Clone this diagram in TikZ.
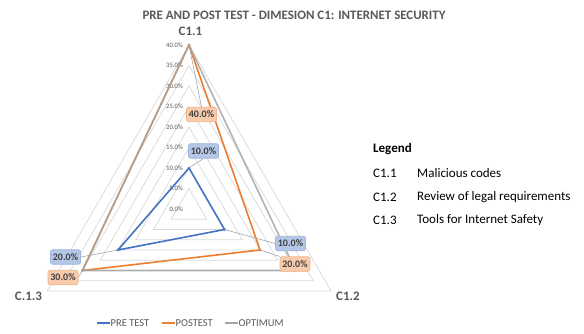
\documentclass[tikz,border=0pt]{standalone}
\usepackage{fontspec}
\setmainfont{Carlito}
\usetikzlibrary{calc}
\definecolor{preblue}{HTML}{4472C4}
\definecolor{postorange}{HTML}{ED7D31}
\definecolor{optgray}{HTML}{A5A5A5}
\definecolor{gridgray}{HTML}{D9D9D9}
\definecolor{txtgray}{HTML}{595959}
\definecolor{lbltext}{HTML}{404040}
\definecolor{lblblue}{HTML}{B4C7E7}
\definecolor{lblblueedge}{HTML}{9DB4DC}
\definecolor{lblorange}{HTML}{F8CBAD}
\definecolor{lblorangeedge}{HTML}{F1B48C}
\definecolor{leadergray}{HTML}{A6A6A6}
\begin{document}
\begin{tikzpicture}[x=1pt,y=-1pt,
  ring/.style={draw=gridgray,line width=0.7pt},
  series/.style={line width=1.6pt,line join=round},
  dot/.style={circle,inner sep=0pt,minimum size=3pt},
  ticklbl/.style={font=\fontsize{6.7}{7}\selectfont,text=txtgray,anchor=east,inner sep=0pt},
  axislbl/.style={font=\fontsize{13}{15}\selectfont\bfseries,text=txtgray,inner sep=0pt},
  datalbl/.style={rounded corners=2pt,font=\fontsize{10}{11}\selectfont\bfseries,text=lbltext,
    inner sep=0pt,minimum width=30pt,minimum height=14.5pt,line width=0.6pt},
  prelbl/.style={datalbl,fill=lblblue,draw=lblblueedge},
  postlbl/.style={datalbl,fill=lblorange,draw=lblorangeedge},
  leader/.style={draw=leadergray,line width=0.6pt},
  keytext/.style={font=\fontsize{10.5}{12}\selectfont,text=txtgray,anchor=west,inner sep=0pt},
  legtext/.style={font=\fontsize{13}{15}\selectfont,anchor=west,inner sep=0pt}
]
\useasboundingbox (0,0) rectangle (584,334);
\fill[white] (0,0) rectangle (584,334);

% title
\node[font=\fontsize{12.9}{15}\selectfont\bfseries,text=txtgray,inner sep=0pt] (title) at (294,15)
  {PRE AND POST TEST - DIMESION C1: INTERNET SECURITY};

% radar grid: centre at (189,209), 4.1pt per percentage point
\begin{scope}[shift={(189,209)}]
  \foreach \v in {5,10,...,40}{
    \draw[ring] (0,{-4.1*\v}) -- ({4.1*\v*cos(30)},{4.1*\v*sin(30)})
      -- ({4.1*\v*cos(150)},{4.1*\v*sin(150)}) -- cycle;
  }
  \foreach \v in {0,5,...,40}{
    \node[ticklbl] (tick\v) at (-6,{-4.1*\v}) {\v.0\%};
  }
  % data points (C1.1 up, C1.2 lower right, C1.3 lower left)
  \coordinate (pre1)  at (0,{-4.1*10});
  \coordinate (pre2)  at ({4.1*10*cos(30)},{4.1*10*sin(30)});
  \coordinate (pre3)  at ({4.1*20*cos(150)},{4.1*20*sin(150)});
  \coordinate (post1) at (0,{-4.1*40});
  \coordinate (post2) at ({4.1*20*cos(30)},{4.1*20*sin(30)});
  \coordinate (post3) at ({4.1*30*cos(150)},{4.1*30*sin(150)});
  \coordinate (opt1)  at (0,{-4.1*40});
  \coordinate (opt2)  at ({4.1*30*cos(30)},{4.1*30*sin(30)});
  \coordinate (opt3)  at ({4.1*30*cos(150)},{4.1*30*sin(150)});
\end{scope}

% category labels
\node[axislbl] (c11) at (190.5,31) {C1.1};
\node[axislbl] (c12) at (348,296) {C1.2};
\node[axislbl] (c13) at (28.5,296) {C.1.3};

% series
\draw[series,preblue] (pre1) -- (pre2) -- (pre3) -- cycle;
\draw[series,postorange] (post1) -- (post2) -- (post3) -- cycle;
\draw[series,optgray,opacity=0.85] (opt1) -- (opt2) -- (opt3) -- cycle;
\foreach \p in {pre1,pre2,pre3}{\node[dot,fill=preblue] at (\p) {};}
\foreach \p in {post1,post2,post3}{\node[dot,fill=postorange] at (\p) {};}
\foreach \p in {opt1,opt2,opt3}{\node[dot,fill=optgray] at (\p) {};}

% value boxes
\node[postlbl] (lpost1) at (201.5,114.5) {40.0\%};
\node[prelbl]  (lpre1)  at (203.5,151)   {10.0\%};
\node[prelbl]  (lpre3)  at (65.5,257)    {20.0\%};
\node[postlbl] (lpost3) at (63,277.5)    {30.0\%};
\node[prelbl]  (lpre2)  at (290.5,243.5) {10.0\%};
\node[postlbl] (lpost2) at (295,264)     {20.0\%};

% leader lines from points to their value boxes
\draw[leader] (post1) -- (lpost1.north);
\draw[leader] (pre1) -- (lpre1.south);
\draw[leader] (pre3) -- (lpre3.east);
\draw[leader] (post3) -- (lpost3.east);
\draw[leader] (pre2) -- (lpre2.west);
\draw[leader] (post2) -- (lpost2.north west);

% series key
\coordinate (k1a) at (97,323);  \coordinate (k1b) at (110,323);
\coordinate (k2a) at (162,323); \coordinate (k2b) at (175,323);
\coordinate (k3a) at (225,323); \coordinate (k3b) at (238,323);
\draw[preblue,line width=1.6pt] (k1a) -- (k1b);
\draw[postorange,line width=1.6pt] (k2a) -- (k2b);
\draw[optgray,line width=1.6pt] (k3a) -- (k3b);
\node[dot,minimum size=2.5pt,fill=preblue] at ($(k1a)!0.5!(k1b)$) {};
\node[dot,minimum size=2.5pt,fill=postorange] at ($(k2a)!0.5!(k2b)$) {};
\node[dot,minimum size=2.5pt,fill=optgray] at ($(k3a)!0.5!(k3b)$) {};
\node[keytext] (key1) at (110.5,323) {PRE TEST};
\node[keytext] (key2) at (175.5,323) {POSTEST};
\node[keytext] (key3) at (238.5,323) {OPTIMUM};

% category legend
\node[legtext,font=\fontsize{13}{15}\selectfont\bfseries] (leg) at (373,149) {Legend};
\node[legtext] (code1) at (373,173) {C1.1};
\node[legtext] (desc1) at (417,173) {Malicious codes};
\node[legtext] (code2) at (373,197) {C1.2};
\node[legtext] (desc2) at (417,197) {Review of legal requirements};
\node[legtext] (code3) at (373,220) {C1.3};
\node[legtext] (desc3) at (417,220) {Tools for Internet Safety};
\end{tikzpicture}
\end{document}
